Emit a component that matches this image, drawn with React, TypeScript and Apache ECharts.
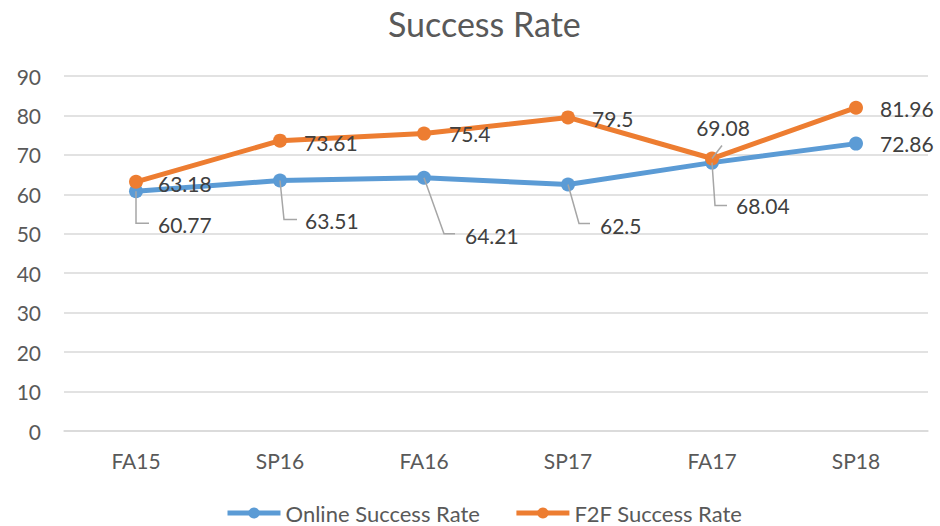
import React, { useEffect, useRef } from "react";
import * as echarts from "echarts";

const categories = ["FA15", "SP16", "FA16", "SP17", "FA17", "SP18"];
const onlineRate = [60.77, 63.51, 64.21, 62.5, 68.04, 72.86];
const f2fRate = [63.18, 73.61, 75.4, 79.5, 69.08, 81.96];
const yTicks = { min: 0, max: 90, interval: 10 };

// Label placement relative to each point (pixels):
// [elbowDx, elbowDy, leaderEndDx, textDx, textDy, leader(1)/none(0), align]
const onlineLabelLayout: [number, number, number, number, number, number, string][] = [
  [0, 32, 13, 22, 33, 1, "left"],
  [4, 39, 17, 25, 40, 1, "left"],
  [20, 56, 31, 41, 58, 1, "left"],
  [11, 39, 22, 32, 41, 1, "left"],
  [3, 43, 15, 24, 43, 1, "left"],
  [0, 0, 0, 24, 0, 0, "left"],
];
const f2fLabelLayout: [number, number, number, number, number, number, string][] = [
  [0, 0, 0, 22, 2, 0, "left"],
  [0, 0, 0, 24, 2, 0, "left"],
  [0, 0, 0, 25, 0, 0, "left"],
  [0, 0, 0, 24, 1, 0, "left"],
  [10, -13, 10, 11, -31, 1, "center"],
  [0, 0, 0, 24, 1, 0, "left"],
];

const FONT = "Lato, 'Open Sans', sans-serif";
const BLUE = "#5B9BD5";
const ORANGE = "#ED7D31";

function labelSeries(values: number[], layout: typeof onlineLabelLayout, z: number) {
  return {
    type: "custom",
    z,
    silent: true,
    data: values.map((v, i) => [i, v]),
    encode: { x: 0, y: 1 },
    renderItem: (params: any, api: any) => {
      const i = api.value(0);
      const v = api.value(1);
      const [px, py] = api.coord([i, v]);
      const [ex, ey, endDx, tx, ty, leader, align] = layout[params.dataIndex];
      const children: any[] = [];
      if (leader) {
        children.push({
          type: "polyline",
          shape: { points: [[px, py], [px + ex, py + ey], [px + endDx, py + ey]] },
          style: { stroke: "#a6a6a6", lineWidth: 1.5, fill: null },
        });
      }
      children.push({
        type: "text",
        style: {
          x: px + tx,
          y: py + ty,
          text: String(v),
          fill: "#404040",
          font: `21px ${FONT}`,
          align,
          verticalAlign: "middle",
        },
      });
      return { type: "group", children };
    },
  };
}

export default function App() {
  const ref = useRef<HTMLDivElement>(null);
  useEffect(() => {
    if (!ref.current) return;
    const chart = echarts.init(ref.current, null, { renderer: "svg" });
    chart.setOption({
      animation: false,
      textStyle: { fontFamily: FONT },
      title: {
        text: "Success Rate",
        left: 383,
        top: 1,
        textStyle: { fontSize: 34, fontWeight: "normal", color: "#595959", fontFamily: FONT },
      },
      legend: {
        top: 497,
        left: 220,
        itemWidth: 53,
        itemHeight: 14,
        itemGap: 34,
        lineStyle: { width: 5 },
        textStyle: { fontSize: 22, color: "#595959", fontFamily: FONT },
        data: ["Online Success Rate", "F2F Success Rate"],
      },
      grid: { left: 64, right: 12, top: 76, bottom: 95 },
      xAxis: {
        type: "category",
        data: categories,
        boundaryGap: true,
        axisLine: { lineStyle: { color: "#d9d9d9", width: 1.5 } },
        axisTick: { show: false },
        axisLabel: { fontSize: 21, color: "#595959", margin: 19, fontFamily: FONT },
      },
      yAxis: {
        type: "value",
        min: yTicks.min,
        max: yTicks.max,
        interval: yTicks.interval,
        axisLine: { show: false },
        axisTick: { show: false },
        axisLabel: { fontSize: 21, color: "#595959", margin: 23, fontFamily: FONT },
        splitLine: { lineStyle: { color: "#d9d9d9", width: 1.5 } },
      },
      series: [
        {
          name: "Online Success Rate",
          type: "line",
          data: onlineRate,
          color: BLUE,
          symbol: "circle",
          symbolSize: 14,
          lineStyle: { width: 5 },
          z: 2,
        },
        {
          name: "F2F Success Rate",
          type: "line",
          data: f2fRate,
          color: ORANGE,
          symbol: "circle",
          symbolSize: 14,
          lineStyle: { width: 5 },
          z: 3,
        },
        labelSeries(onlineRate, onlineLabelLayout, 4),
        labelSeries(f2fRate, f2fLabelLayout, 5),
      ],
    });
    return () => chart.dispose();
  }, []);
  return <div ref={ref} style={{ width: 940, height: 526, position: "absolute", left: 0, top: 0 }} />;
}
